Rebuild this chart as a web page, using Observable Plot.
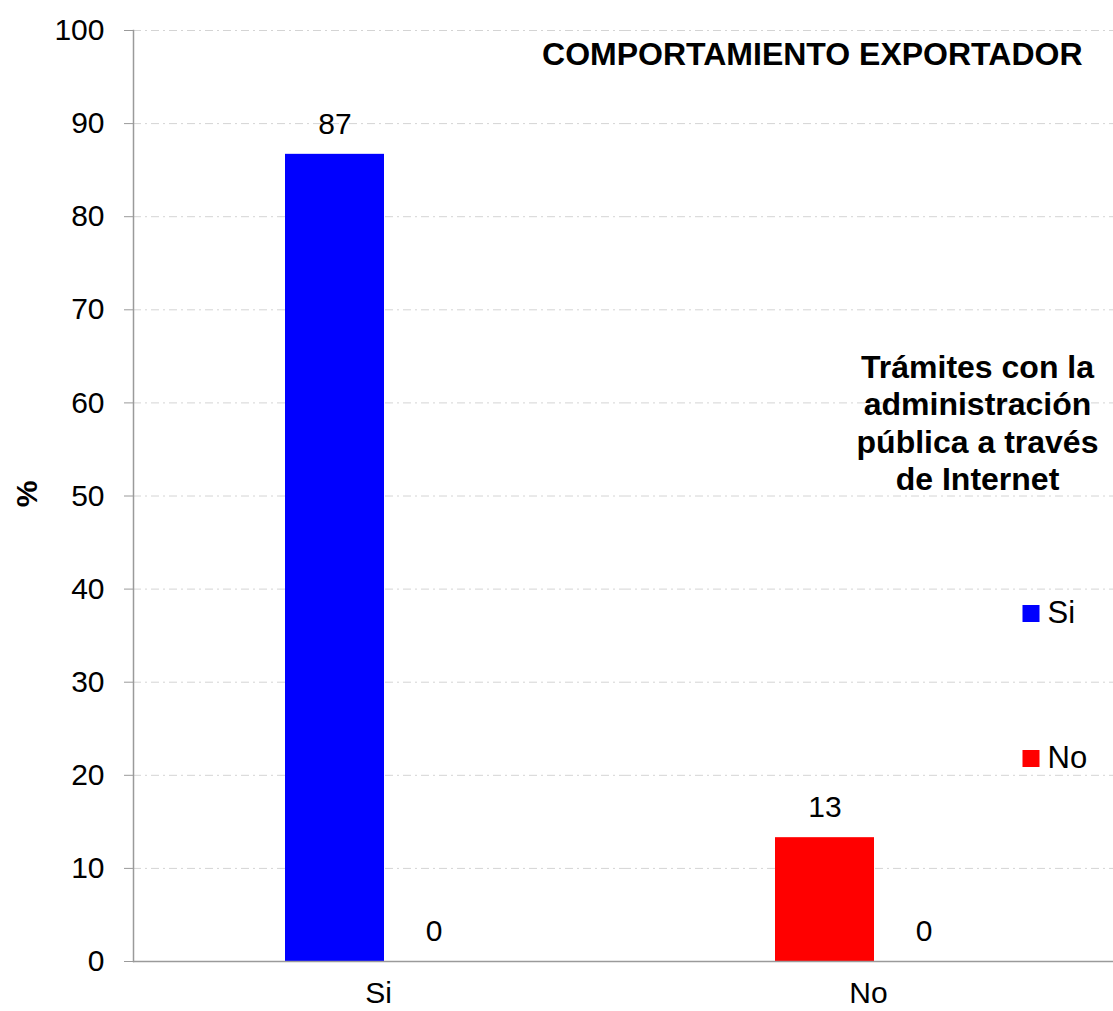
<!DOCTYPE html>
<html>
<head>
<meta charset="utf-8">
<script src="https://cdn.jsdelivr.net/npm/d3@7"></script>
<script src="https://cdn.jsdelivr.net/npm/@observablehq/plot@0.6"></script>
<style>
  html, body { margin: 0; padding: 0; background: #fff; }
  #chart { width: 1113px; height: 1011px; }
</style>
</head>
<body>
<div id="chart"></div>
<script>
// ---- data ----
const categories = ["Si", "No"];
const seriesColors = ["#0000FF", "#FF0000"];
const primaryValues = [86.7, 13.3];
const primaryLabels = ["87", "13"];
const secondaryValues = [0, 0];
const secondaryLabels = ["0", "0"];
const yTicks = [0, 10, 20, 30, 40, 50, 60, 70, 80, 90, 100];
const chartTitle = "COMPORTAMIENTO EXPORTADOR";
const legendTitle = "Trámites con la\nadministración\npública a través\nde Internet";
const legendItems = ["Si", "No"];
const yLabel = "%";

// ---- table built from arrays ----
const rows = [];
categories.forEach((c, i) => {
  rows.push({cat: c, slot: "a", value: primaryValues[i], label: primaryLabels[i], color: seriesColors[i]});
  rows.push({cat: c, slot: "b", value: secondaryValues[i], label: secondaryLabels[i], color: seriesColors[i]});
});
const lastCat = categories[categories.length - 1];
const firstCat = categories[0];

const legendMarks = [];
legendItems.forEach((name, i) => {
  const dy = 117.5 + i * 145;
  legendMarks.push(Plot.dot([{fx: lastCat, c: seriesColors[i]}], {
    fx: "fx", frameAnchor: "right", dx: -82.5, dy, symbol: "square", r: 9.6, fill: "c", stroke: null
  }));
  legendMarks.push(Plot.text([{fx: lastCat, t: name}], {
    fx: "fx", text: "t", frameAnchor: "right", textAnchor: "start", lineAnchor: "middle", dx: -66, dy, fontSize: 31
  }));
});

const chart = Plot.plot({
  width: 1113,
  height: 1011,
  marginLeft: 132,
  marginRight: 0,
  marginTop: 30,
  marginBottom: 50,
  style: {fontFamily: "'Liberation Sans', Arial, sans-serif", fontSize: "30px", color: "black", background: "white"},
  fx: {domain: categories, padding: 0, label: null},
  x: {domain: ["a", "b"], paddingInner: 0, paddingOuter: 1.45, align: 0.52, axis: null},
  y: {domain: [0, 100], label: null},
  color: {type: "identity"},
  marks: [
    Plot.gridY({ticks: yTicks.filter(d => d > 0), stroke: "#d4d4d4", strokeOpacity: 1, strokeDasharray: "8,4,2,4"}),
    Plot.barY(rows, {fx: "cat", x: "slot", y: "value", fill: "color"}),
    Plot.text(rows, {fx: "cat", x: "slot", y: "value", text: "label", dy: -30, lineAnchor: "middle", fontSize: 30}),
    Plot.ruleY([0], {stroke: "#9a9a9a", strokeWidth: 1.5}),
    Plot.frame({anchor: "left", facetAnchor: "left", stroke: "#9a9a9a", strokeWidth: 1.5}),
    Plot.axisY({ticks: yTicks, tickSize: 9, tickPadding: 20, stroke: "#9a9a9a", fill: "black", label: null, fontSize: 30}),
    Plot.axisFx({anchor: "bottom", tickSize: 0, tickPadding: 20, label: null, fontSize: 30}),
    Plot.text([{fx: firstCat, t: yLabel}], {fx: "fx", text: "t", frameAnchor: "left", rotate: -90, dx: -106.5, dy: -2, textAnchor: "middle", lineAnchor: "middle", fontWeight: "bold", fontSize: 30}),
    Plot.text([{fx: lastCat, t: chartTitle}], {fx: "fx", text: "t", frameAnchor: "top-right", textAnchor: "end", lineAnchor: "middle", dx: -31, dy: 24, fontWeight: "bold", fontSize: 32}),
    Plot.text([{fx: lastCat, t: legendTitle}], {fx: "fx", text: "t", frameAnchor: "right", textAnchor: "middle", lineAnchor: "middle", lineHeight: 1.17, dx: -136, dy: -74, fontWeight: "bold", fontSize: 32}),
    ...legendMarks
  ]
});
document.getElementById("chart").appendChild(chart);
</script>
</body>
</html>
